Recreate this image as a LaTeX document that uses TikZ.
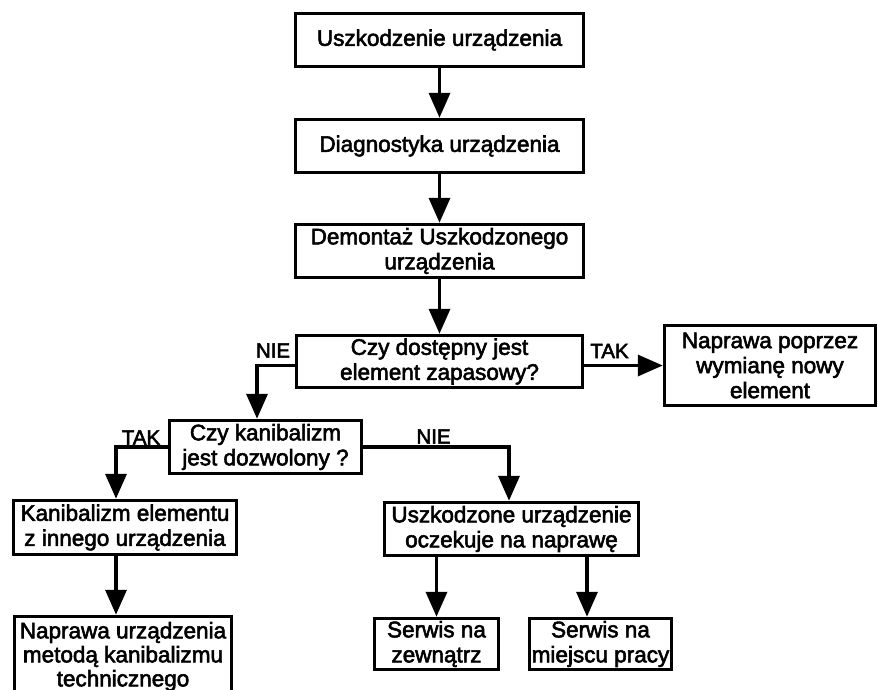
\documentclass[tikz,border=0pt]{standalone}
\usepackage{fontspec}
\setmainfont{Liberation Sans}[FakeBold=2.5]
\usetikzlibrary{arrows.meta}

\begin{document}
\begin{tikzpicture}[x=1pt,y=-1pt,-{Triangle[length=25pt,width=21pt]},line width=3.5pt,
                    main node/.style={draw,rectangle,line width=3.5pt,align=center,inner sep=0pt,
                                      font=\fontsize{22.5}{25}\selectfont},
                    answer node/.style={inner sep=0pt,font=\fontsize{20.5}{22}\selectfont}]

  \useasboundingbox (0,0) rectangle (878,689);

  \node[main node,minimum width=288pt,minimum height=53pt] (1) at (439.5,40) {Uszkodzenie urządzenia};
  \node[main node,minimum width=288pt,minimum height=53pt] (2) at (439.5,146) {Diagnostyka urządzenia};
  \node[main node,minimum width=288pt,minimum height=53pt] (3) at (439.5,251) {Demontaż Uszkodzonego\\urządzenia};
  \node[main node,minimum width=286pt,minimum height=52pt] (4) at (439.5,361.5) {Czy dostępny jest\\element zapasowy?};
  \node[main node,minimum width=211pt,minimum height=80pt] (5) at (770,365.5) {Naprawa poprzez\\wymianę nowy\\element};
  \node[main node,minimum width=192pt,minimum height=53pt] (6) at (265.5,447) {Czy kanibalizm\\jest dozwolony ?};
  \node[main node,minimum width=223pt,minimum height=54pt] (7) at (125,527.5) {Kanibalizm elementu\\z innego urządzenia};
  \node[main node,minimum width=217pt,minimum height=80pt,anchor=north,
        font=\fontsize{22.5}{24}\selectfont] (8) at (123,614.75) {Naprawa urządzenia\\metodą kanibalizmu\\technicznego};
  \node[main node,minimum width=254pt,minimum height=53pt] (9) at (511.5,529) {Uszkodzone urządzenie\\oczekuje na naprawę};
  \node[main node,minimum width=124pt,minimum height=51pt] (10) at (436.5,644) {Serwis na\\zewnątrz};
  \node[main node,minimum width=142pt,minimum height=51pt] (11) at (600.5,644) {Serwis na\\miejscu pracy};

  \node[answer node] (nie1) at (273,350.5) {NIE};
  \node[answer node] (tak1) at (609.5,351) {TAK};
  \node[answer node] (tak2) at (141,437.5) {TAK};
  \node[answer node] (nie2) at (433.5,436.5) {NIE};

  \path
    (1) edge (2)
    (2) edge (3)
    (3) edge (4);
  \draw (4.east |- 5.west) -- (5.west);
  \draw (4.west |- 5.west) -| ([xshift=-8.5pt]6.north);
  \draw (6.west) -| ([xshift=-9pt]7.north);
  \draw (6.east) -| ([xshift=-2.5pt]9.north);
  \draw ([xshift=-9pt]7.south) -- ([xshift=-9pt]7.south |- 8.north);
  \draw (10.north |- 9.south) -- (10.north);
  \draw ([xshift=-13.5pt]11.north |- 9.south) -- ([xshift=-13.5pt]11.north);
\end{tikzpicture}
\end{document}
